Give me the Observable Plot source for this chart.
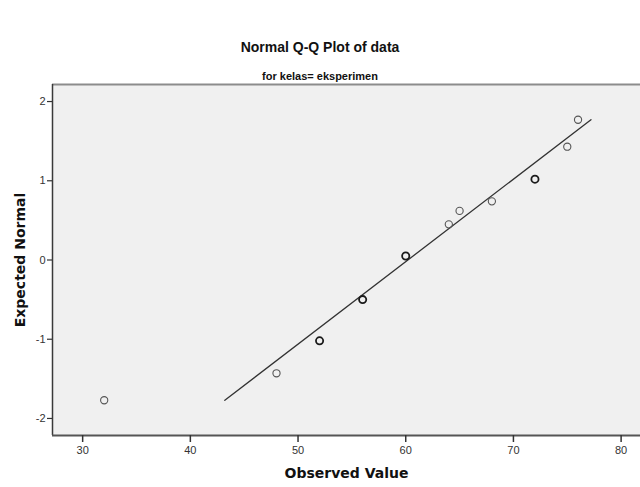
<!DOCTYPE html>
<html>
<head>
<meta charset="utf-8">
<script src="https://cdn.jsdelivr.net/npm/d3@7"></script>
<script src="https://cdn.jsdelivr.net/npm/@observablehq/plot@0.6"></script>
<style>
  html, body { margin: 0; padding: 0; background: #fff; }
  #header { position: relative; width: 640px; height: 80px; font-family: "Liberation Sans", Arial, sans-serif; }
  #title { position: absolute; left: 0; width: 640px; top: 38px; text-align: center; font-weight: bold; font-size: 14px; color: #111; line-height: 18px; }
  #subtitle { position: absolute; left: 0; width: 640px; top: 70px; text-align: center; font-weight: bold; font-size: 11px; color: #111; line-height: 13px; }
</style>
</head>
<body>
<div id="header">
  <div id="title">Normal Q-Q Plot of data</div>
  <div id="subtitle">for kelas= eksperimen</div>
</div>
<div id="chart"></div>
<script>
// Data
const observed = [32, 48, 52, 56, 60, 64, 65, 68, 72, 75, 76];
const expected = [-1.77, -1.43, -1.02, -0.50, 0.05, 0.45, 0.62, 0.74, 1.02, 1.43, 1.77];
const ties     = [1, 1, 2, 2, 2, 1, 1, 1, 2, 1, 1];

// Reference (fitted normal) line endpoints
const lineObserved = [43.2, 77.2];
const lineExpected = [-1.77, 1.77];

// Axis ticks and domains
const xTicks = [30, 40, 50, 60, 70, 80];
const yTicks = [-2, -1, 0, 1, 2];
const xDomain = [27.2, 81.8];
const yDomain = [-2.215, 2.215];

const points = observed.map((v, i) => ({observed: v, expected: expected[i], n: ties[i]}));
const fitLine = lineObserved.map((v, i) => ({observed: v, expected: lineExpected[i]}));

const chart = Plot.plot({
  width: 640,
  height: 407,
  marginTop: 4,
  marginLeft: 52,
  marginRight: 0,
  marginBottom: 52,
  style: {fontFamily: "'Liberation Sans', Arial, sans-serif", fontSize: "11px", color: "#222", background: "#fff"},
  x: {domain: xDomain, ticks: xTicks},
  y: {domain: yDomain, ticks: yTicks},
  marks: [
    Plot.frame({fill: "#f0f0f0", stroke: "none"}),
    Plot.ruleY([yDomain[1]], {stroke: "#8c8c8c", strokeWidth: 2}),
    Plot.ruleX([xDomain[0]], {stroke: "#3a3a3a", strokeWidth: 1.5}),
    Plot.ruleY([yDomain[0]], {stroke: "#555", strokeWidth: 2}),
    Plot.axisX({ticks: xTicks, tickSize: 7, tickPadding: 4, label: null, stroke: "#333", strokeWidth: 1.5, fill: "#333"}),
    Plot.axisY({ticks: yTicks, tickSize: 5, tickPadding: 2, label: null, stroke: "#333", strokeWidth: 1.2, fill: "#333", tickFormat: d => String(d)}),
    Plot.line(fitLine, {x: "observed", y: "expected", stroke: "#333", strokeWidth: 1.3}),
    Plot.dot(points, {x: "observed", y: "expected", r: 3.6, fill: "none",
      stroke: d => d.n > 1 ? "#1a1a1a" : "#555",
      strokeWidth: d => d.n > 1 ? 1.8 : 1.1}),
    Plot.text(["Observed Value"], {frameAnchor: "bottom", dy: 42, text: d => d, textAnchor: "middle",
      fontSize: 14, fontWeight: "bold", fill: "#111", fontFamily: "'DejaVu Sans', Verdana, sans-serif"}),
    Plot.text(["Expected Normal"], {frameAnchor: "left", dx: -32, rotate: -90, text: d => d, textAnchor: "middle",
      fontSize: 14, fontWeight: "bold", fill: "#111", fontFamily: "'DejaVu Sans', Verdana, sans-serif"})
  ]
});
document.getElementById("chart").appendChild(chart);
</script>
</body>
</html>
